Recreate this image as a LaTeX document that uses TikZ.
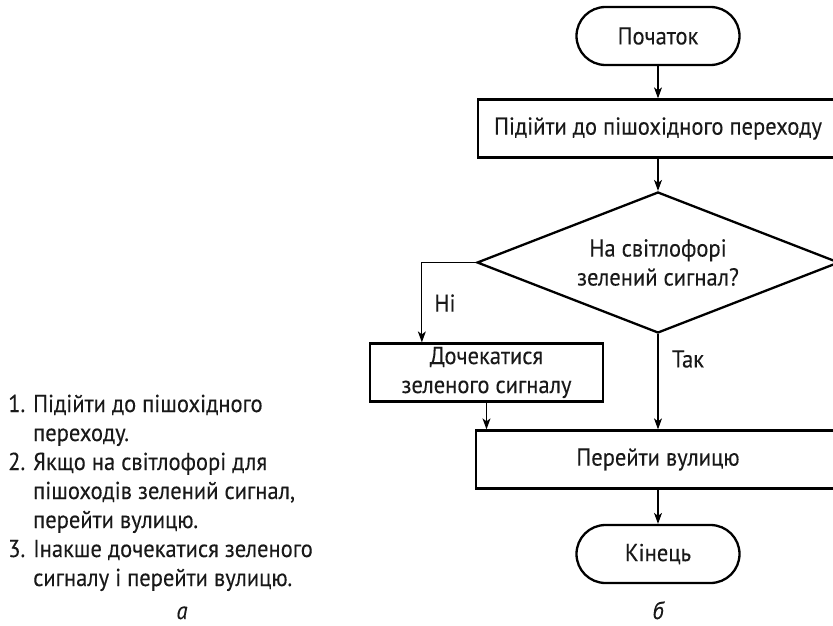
\documentclass[tikz,border=0pt]{standalone}
\usepackage{fontspec}
\setmainfont{PT Sans}[FakeStretch=0.92,FakeBold=0.15]
\usetikzlibrary{arrows.meta,shapes.geometric}
\begin{document}
\begin{tikzpicture}[x=1pt,y=-1pt,
  font=\fontsize{24.5}{29}\selectfont,
  every node/.style={text=black!90},
  term/.style={draw,line width=2.3pt,rectangle,rounded corners=29pt,minimum width=163pt,minimum height=58pt,inner sep=0pt},
  proc/.style={draw,line width=2.3pt,rectangle,minimum height=58pt,inner sep=0pt,align=center},
  dec/.style={draw,line width=2.3pt,diamond,aspect=2.57,minimum width=362pt,minimum height=141pt,inner sep=0pt,align=center},
  arr/.style={line width=1.1pt,-{Stealth[length=11pt,width=8pt,inset=3pt]}},
  lbl/.style={inner sep=0pt}]
\useasboundingbox (0,0) rectangle (833,626);
\clip (0,0) rectangle (833,626);
\node[term] (start) at (658,36) {Початок};
\node[proc,minimum width=360pt] (s1) at (658,128.5) {Підійти до пішохідного переходу};
\node[dec] (q) at (658,262.5) {На світлофорі\\зелений сигнал?};
\node[proc,minimum width=233pt] (wait) at (486.5,372.5) {Дочекатися\\зеленого сигналу};
\node[proc,minimum width=364pt] (cross) at (658,459.5) {Перейти вулицю};
\node[term] (end) at (658,554) {Кінець};
\coordinate (nodown) at ([xshift=53pt]wait.north west);
\draw[arr] (start) -- (s1);
\draw[arr] (s1) -- (q);
\draw[arr] (q.west) -| (nodown);
\draw[arr] (wait.south) -- (wait.south |- cross.north);
\draw[arr] (q.south) -- (cross.north);
\draw[arr] (cross) -- (end);
\node[lbl] (no) at (445,303) {Ні};
\node[lbl] (yes) at (688,359) {Так};
\node[lbl,anchor=base] (capb) at (658,619) {\itshape б};
\node[lbl,anchor=base] (capa) at (182,619) {\itshape а};
\node[anchor=base west,inner sep=0pt] (list) at (8,412) {%
  \begin{tabular}[t]{@{}p{25pt}@{}l@{}}
  1. & Підійти до пішохідного\\
     & переходу.\\
  2. & Якщо на світлофорі для\\
     & пішоходів зелений сигнал,\\
     & перейти вулицю.\\
  3. & Інакше дочекатися зеленого\\
     & сигналу і перейти вулицю.
  \end{tabular}};
\end{tikzpicture}
\end{document}
